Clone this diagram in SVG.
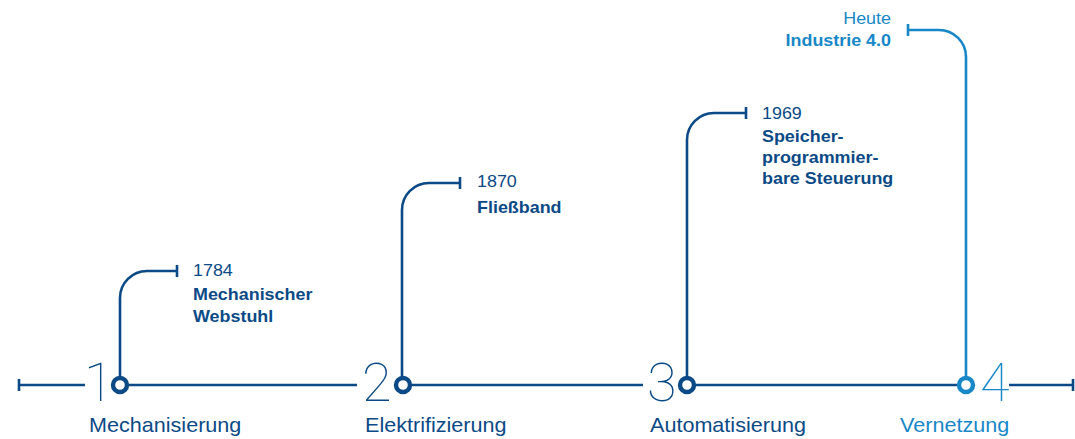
<svg xmlns="http://www.w3.org/2000/svg" width="1075" height="439" viewBox="0 0 1075 439">
  <style>
    .ln { fill: none; stroke: #0b4a86; stroke-width: 2.6; }
    .ln.lt { stroke: #1787c8; }
    .dot { fill: #ffffff; stroke: #0b4a86; stroke-width: 4.4; }
    .dot.lt { stroke: #1787c8; }
    .big { font-family: Roboto, "Liberation Sans", sans-serif; font-weight: 100; font-size: 54px; fill: #0b4a86; }
    .big.lt { fill: #1787c8; }
    .phase { font-family: "Liberation Sans", Arial, sans-serif; font-size: 20px; fill: #0b4a86; }
    .phase.lt { fill: #1787c8; }
    .yr { font-family: "Liberation Sans", Arial, sans-serif; font-size: 16px; fill: #0b4a86; }
    .ttl { font-family: "Liberation Sans", Arial, sans-serif; font-size: 16px; font-weight: bold; fill: #0b4a86; }
    .yr.lt, .ttl.lt { fill: #1787c8; }
  </style>

  <!-- main time axis -->
  <g id="connectors">
    <path class="ln" d="M19 379 V391 M19 385 H85"/>
    <path class="ln" d="M120 385 H357"/>
    <path class="ln" d="M403 385 H643"/>
    <path class="ln" d="M687 385 H966"/>
    <path class="ln" d="M1009 385 H1073 M1073 379 V391"/>
    <!-- risers from each phase to its milestone -->
    <path class="ln" d="M120 385 V298 A27 27 0 0 1 147 271 H177 M177 265 V277"/>
    <path class="ln" d="M402 385 V210 A27 27 0 0 1 429 183 H460 M460 177 V189"/>
    <path class="ln" d="M687 385 V140 A27 27 0 0 1 714 113 H746 M746 107 V119"/>
    <path class="ln lt" d="M966 385 V57 A27 27 0 0 0 939 30 H908 M908 24 V36"/>
  </g>

  <g id="phase1">
    <text class="big" x="84" y="401">1</text>
    <circle class="dot" cx="120" cy="385" r="7"/>
    <g transform="translate(89 432) scale(1.08 1)"><text class="phase" x="0" y="0">Mechanisierung</text></g>
    <g transform="translate(193 0) scale(1.12 1)">
      <text class="yr" x="0" y="276">1784</text>
      <text class="ttl" x="0" y="300">Mechanischer</text>
      <text class="ttl" x="0" y="322">Webstuhl</text>
    </g>
  </g>

  <g id="phase2">
    <text class="big" x="362" y="401">2</text>
    <circle class="dot" cx="403" cy="385" r="7"/>
    <g transform="translate(365 432) scale(1.08 1)"><text class="phase" x="0" y="0">Elektrifizierung</text></g>
    <g transform="translate(477 0) scale(1.12 1)">
      <text class="yr" x="0" y="187">1870</text>
      <text class="ttl" x="0" y="213">Fließband</text>
    </g>
  </g>

  <g id="phase3">
    <text class="big" x="647" y="401">3</text>
    <circle class="dot" cx="687" cy="385" r="7"/>
    <g transform="translate(650 432) scale(1.08 1)"><text class="phase" x="0" y="0">Automatisierung</text></g>
    <g transform="translate(762 0) scale(1.12 1)">
      <text class="yr" x="0" y="119">1969</text>
      <text class="ttl" x="0" y="142">Speicher-</text>
      <text class="ttl" x="0" y="163">programmier-</text>
      <text class="ttl" x="0" y="184">bare Steuerung</text>
    </g>
  </g>

  <g id="phase4">
    <text class="big lt" x="980" y="401">4</text>
    <circle class="dot lt" cx="966" cy="385" r="7"/>
    <g transform="translate(900 432) scale(1.08 1)"><text class="phase lt" x="0" y="0">Vernetzung</text></g>
    <g transform="translate(891 0) scale(1.12 1)">
      <text class="yr lt" x="0" y="24" text-anchor="end">Heute</text>
      <text class="ttl lt" x="0" y="46" text-anchor="end">Industrie 4.0</text>
    </g>
  </g>
</svg>
